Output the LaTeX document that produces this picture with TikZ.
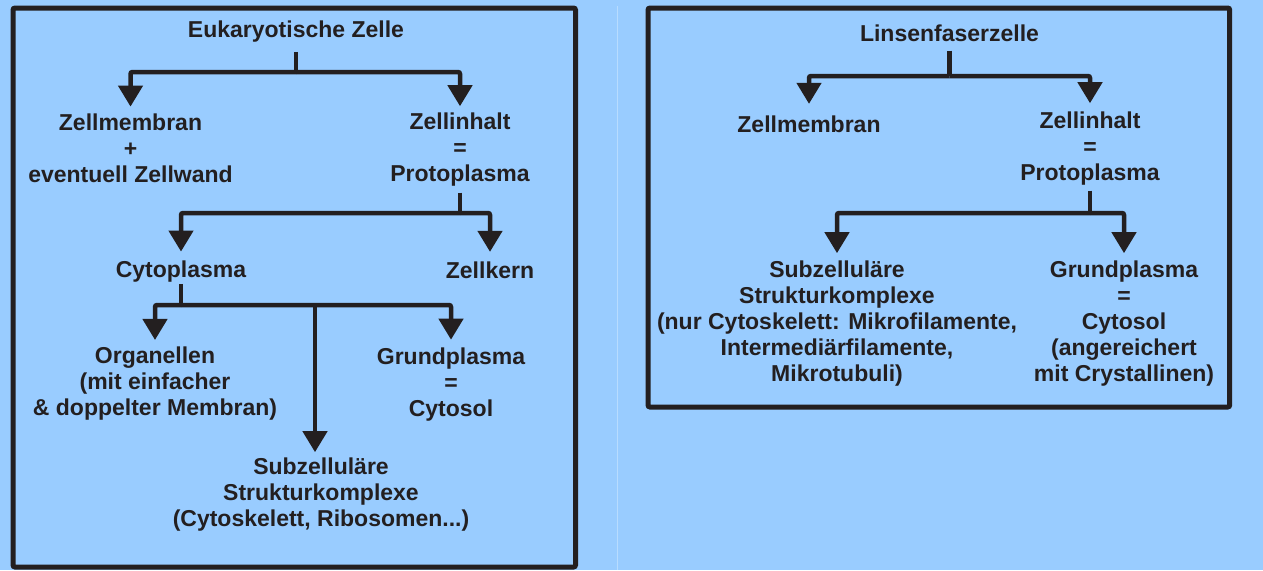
\documentclass[tikz,border=0pt]{standalone}
\usepackage{fontspec}
\setmainfont{Liberation Sans}
\usetikzlibrary{arrows.meta}
\definecolor{bg}{HTML}{99CCFF}
\definecolor{ink}{HTML}{231F20}
\definecolor{faint}{HTML}{B8DCFF}
\begin{document}
\begin{tikzpicture}[x=1pt,y=-1pt,
  lbl/.style={font=\fontsize{23}{26}\selectfont\bfseries, text=ink, align=center, inner sep=0pt},
  ln/.style={draw=ink, line width=4.5pt, rounded corners=2pt},
  arr/.style={ln, -{Triangle[width=24pt,length=21pt]}},
  frame/.style={draw=ink, line width=5pt, rounded corners=2pt}]
\fill[bg] (0,0) rectangle (1263,570);
\useasboundingbox (0,0) rectangle (1263,570);
\draw[faint, line width=1pt] (617,6) -- (617,570);
\draw[frame] (13,8) rectangle (575.5,567);
\draw[frame] (648,8) rectangle (1229.7,407);

% left tree
\node[lbl] (E) at (296,32) {Eukaryotische Zelle};
\node[lbl] (zm) at (130.5,148.75) {Zellmembran\\+\\eventuell Zellwand};
\node[lbl] (zi) at (460,149.65) {Zellinhalt\\=\\Protoplasma};
\node[lbl] (cp) at (181,272) {Cytoplasma};
\node[lbl] (zk) at (490,270) {Zellkern};
\node[lbl] (org) at (155,383.9) {Organellen\\(mit einfacher\\\& doppelter Membran)};
\node[lbl] (gp) at (451,384.1) {Grundplasma\\=\\Cytosol};
\node[lbl] (sub) at (321,494.6) {Subzelluläre\\Strukturkomplexe\\(Cytoskelett, Ribosomen...)};

\coordinate (j1) at (296,72);
\draw[ln, shorten <=9pt] (E) -- (j1);
\draw[arr, shorten >=7.5pt] (j1) -| (zm);
\draw[arr, shorten >=6.5pt] (j1) -| (zi);

\coordinate (j2) at (460,213);
\draw[ln, shorten <=6pt] (zi) -- (j2);
\draw[arr, shorten >=9.5pt] (j2) -| (cp);
\draw[arr, shorten >=9.5pt] (j2) -| (zk);

\coordinate (j3) at (181,305);
\coordinate (j4) at (315,305);
\draw[ln, shorten <=1pt] (cp) -- (j3);
\draw[arr, shorten >=7pt] (j3) -| (org);
\draw[arr, shorten >=7.5pt] (j3) -| (gp);
\draw[arr, shorten >=5.5pt] (j4) -- (j4 |- sub.north);

% right tree
\node[lbl] (L) at (949.5,33) {Linsenfaserzelle};
\node[lbl] (zm2) at (809,124) {Zellmembran};
\node[lbl] (zi2) at (1090,148.65) {Zellinhalt\\=\\Protoplasma};
\node[lbl] (sub2) at (837,323.6) {Subzelluläre\\Strukturkomplexe\\(nur Cytoskelett: Mikrofilamente,\\Intermediärfilamente,\\Mikrotubuli)};
\node[lbl] (gp2) at (1124,323.6) {Grundplasma\\=\\Cytosol\\(angereichert\\mit Crystallinen)};

\coordinate (k1) at (949.5,76);
\draw[ln, shorten <=9pt] (L) -- (k1);
\draw[arr, shorten >=11.5pt] (k1) -| (zm2);
\draw[arr, shorten >=8.5pt] (k1) -| (zi2);

\coordinate (k2) at (1090,213);
\draw[ln, shorten <=5pt] (zi2) -- (k2);
\draw[arr, shorten >=7.5pt] (k2) -| (sub2);
\draw[arr, shorten >=7.5pt] (k2) -| (gp2);
\end{tikzpicture}
\end{document}
